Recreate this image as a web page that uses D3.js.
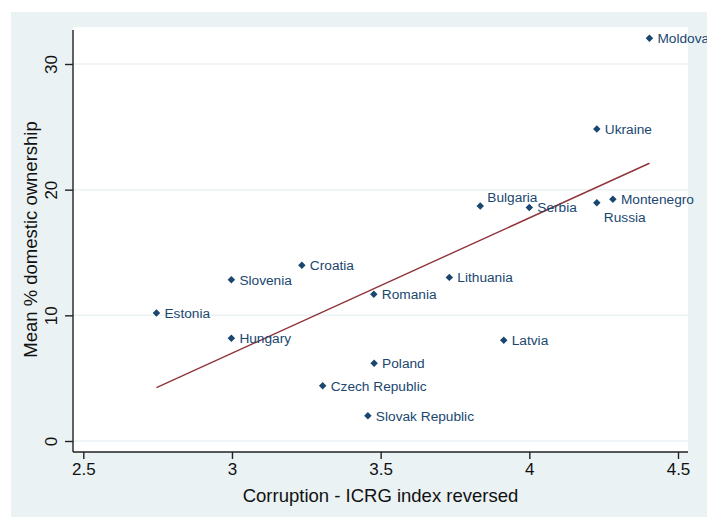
<!DOCTYPE html>
<html><head><meta charset="utf-8">
<script src="https://cdn.jsdelivr.net/npm/d3@7"></script>
<style>body{margin:0;background:#fff}svg{display:block}text{font-family:"Liberation Sans",Arial,sans-serif}</style>
</head><body>
<svg id="c" width="707" height="517"></svg>
<script>
const countries = ["Moldova","Ukraine","Bulgaria","Serbia","Russia","Montenegro","Croatia","Slovenia","Estonia","Hungary","Czech Republic","Lithuania","Romania","Latvia","Poland","Slovak Republic"];
const corruption = [4.404,4.227,3.835,4.000,4.227,4.281,3.235,2.998,2.746,2.998,3.305,3.731,3.477,3.914,3.478,3.457];
const ownership = [32.04,24.82,18.70,18.59,18.96,19.23,13.98,12.83,10.18,8.17,4.40,13.02,11.67,8.01,6.18,2.01];
const xTicks = [2.5,3,3.5,4,4.5];
const yTicks = [0,10,20,30];
const xTitle = "Corruption - ICRG index reversed";
const yTitle = "Mean % domestic ownership";

const svg = d3.select("#c");
const W=707,H=517;
const pl=73, pr=688, pt=27, pb=452;
svg.append("rect").attr("x",11).attr("y",12).attr("width",W-11).attr("height",H-12).attr("fill","#eaf2f3");
svg.append("rect").attr("x",pl).attr("y",pt).attr("width",pr-pl).attr("height",pb-pt).attr("fill","#fff");

const x = d3.scaleLinear().domain([2.5,4.5]).range([83.3,678]);
const y = d3.scaleLinear().domain([0,30]).range([441,64]);

// grid
svg.append("g").selectAll("line").data(yTicks).join("line")
  .attr("x1",pl).attr("x2",pr).attr("y1",d=>y(d)).attr("y2",d=>y(d))
  .attr("stroke","#eaf2f3").attr("stroke-width",1.5);

// fit line (OLS)
const n=corruption.length;
const mx=d3.mean(corruption), my=d3.mean(ownership);
let sxy=0,sxx=0;
for(let i=0;i<n;i++){sxy+=(corruption[i]-mx)*(ownership[i]-my);sxx+=(corruption[i]-mx)**2;}
const b=sxy/sxx, a=my-b*mx;
const [x0,x1]=d3.extent(corruption);
svg.append("line").attr("x1",x(x0)).attr("y1",y(a+b*x0)).attr("x2",x(x1)).attr("y2",y(a+b*x1))
  .attr("stroke","#90353b").attr("stroke-width",1.4);

// axes
const xa = svg.append("g").attr("transform",`translate(0,${pb})`)
  .call(d3.axisBottom(x).tickValues(xTicks).tickFormat(d3.format("")).tickSize(7).tickSizeOuter(0));
xa.select(".domain").attr("d",`M${pl},0H${pr}`).attr("stroke","#222").attr("stroke-width",1.4);
xa.selectAll(".tick line").attr("stroke","#222").attr("stroke-width",1.4);
xa.selectAll(".tick text").attr("y",11).attr("dy","0.71em").attr("font-size",17).attr("fill","#111").style("font-family","Liberation Sans, Arial");

const ya = svg.append("g").attr("transform",`translate(${pl},0)`)
  .call(d3.axisLeft(y).tickValues(yTicks).tickSize(8).tickSizeOuter(0));
ya.select(".domain").attr("d",`M0,${pt+3}V${pb}`).attr("stroke","#222").attr("stroke-width",1.4);
ya.selectAll(".tick line").attr("stroke","#222").attr("stroke-width",1.4);
ya.selectAll(".tick text").attr("x",null).attr("dy",null)
  .attr("transform","translate(-16,0) rotate(-90)").attr("text-anchor","middle")
  .attr("font-size",17).attr("fill","#111").style("font-family","Liberation Sans, Arial");

// titles
svg.append("text").attr("x",(pl+pr)/2).attr("y",502).attr("text-anchor","middle")
  .attr("font-size",18.5).attr("fill","#111").text(xTitle);
svg.append("text").attr("transform",`translate(37,${(pt+pb)/2}) rotate(-90)`).attr("text-anchor","middle")
  .attr("font-size",18.5).attr("fill","#111").text(yTitle);

// points
const pts = countries.map((c,i)=>({c,x:corruption[i],y:ownership[i]}));
const sym = d3.symbol(d3.symbolSquare,28);
svg.append("g").selectAll("path").data(pts).join("path")
  .attr("d",sym).attr("transform",d=>`translate(${x(d.x)},${y(d.y)}) rotate(45)`)
  .attr("fill","#1a476f");

// label placement (clock positions)
const place = {"Bulgaria":[7,-9],"Russia":[7,14]};
svg.append("g").selectAll("text").data(pts).join("text")
  .attr("x",d=>x(d.x)+(place[d.c]?place[d.c][0]:8))
  .attr("y",d=>y(d.y)+(place[d.c]?place[d.c][1]:0))
  .attr("dy","0.35em").attr("font-size",13.7).attr("fill","#1a476f").text(d=>d.c);
</script>
</body></html>
